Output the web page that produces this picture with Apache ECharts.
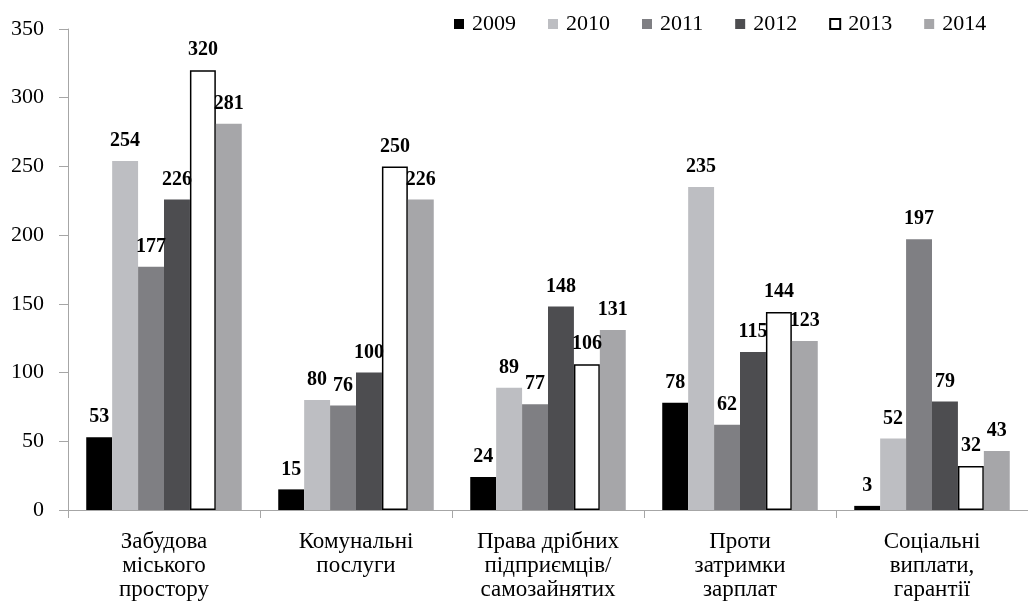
<!DOCTYPE html>
<html>
<head>
<meta charset="utf-8">
<script src="https://cdn.jsdelivr.net/npm/echarts@6/dist/echarts.min.js"></script>
<style>
  html, body { margin: 0; padding: 0; background: #fff; }
  #chart { width: 1028px; height: 602px; }
</style>
</head>
<body>
<div id="chart"></div>
<script>
  // categories along x axis
  const categories = [
    'Забудова\nміського\nпростору',
    'Комунальні\nпослуги',
    'Права дрібних\nпідприємців/\nсамозайнятих',
    'Проти\nзатримки\nзарплат',
    'Соціальні\nвиплати,\nгарантії'
  ]
  const years = ['2009', '2010', '2011', '2012', '2013', '2014']

  // values per year
  const v2009 = [53, 15, 24, 78, 3]
  const v2010 = [254, 80, 89, 235, 52]
  const v2011 = [177, 76, 77, 62, 197]
  const v2012 = [226, 100, 148, 115, 79]
  const v2013 = [320, 250, 106, 144, 32]
  const v2014 = [281, 226, 131, 123, 43]

  const yTicks = [0, 50, 100, 150, 200, 250, 300, 350]

  const font = '"Liberation Serif", "Times New Roman", serif'
  const colors = ['#000000', '#bdbec2', '#7f7f83', '#4d4d50', '#ffffff', '#a6a6a9']
  const values = [v2009, v2010, v2011, v2012, v2013, v2014]

  let series = years.map(function (y, i) {
    return {
      name: y,
      type: 'bar',
      barGap: '0%',
      barCategoryGap: '19%',
      data: values[i],
      itemStyle: i === 4
        ? {color: colors[i], borderColor: '#000', borderWidth: 1.5}
        : {color: colors[i]},
      label: {
        show: true,
        position: 'top',
        distance: 10,
        color: '#000',
        fontFamily: font,
        fontWeight: 'bold',
        fontSize: 20
      }
    }
  })

  let chart = echarts.init(document.getElementById('chart'))
  chart.setOption({
    animation: false,
    textStyle: {fontFamily: font},
    grid: {left: 68, width: 965, top: 29, bottom: 90},
    legend: {
      data: years,
      left: 449,
      top: 8,
      itemWidth: 10,
      itemHeight: 10,
      itemGap: 32,
      icon: 'rect',
      textStyle: {fontFamily: font, fontSize: 22, color: '#000', padding: [0, 0, 0, 3]}
    },
    xAxis: {
      type: 'category',
      data: categories,
      axisLine: {lineStyle: {color: '#a6a6a6', width: 1}},
      axisTick: {show: true, length: 8, lineStyle: {color: '#a6a6a6'}},
      axisLabel: {
        interval: 0,
        margin: 20,
        color: '#000',
        fontFamily: font,
        fontSize: 23,
        lineHeight: 24
      }
    },
    yAxis: {
      type: 'value',
      min: yTicks[0],
      max: yTicks[yTicks.length - 1],
      interval: 50,
      splitLine: {show: false},
      axisLine: {show: true, lineStyle: {color: '#a6a6a6', width: 1}},
      axisTick: {show: true, length: 9, lineStyle: {color: '#a6a6a6'}},
      axisLabel: {
        margin: 24,
        color: '#000',
        fontFamily: font,
        fontSize: 22
      }
    },
    series: series
  })
</script>
</body>
</html>
